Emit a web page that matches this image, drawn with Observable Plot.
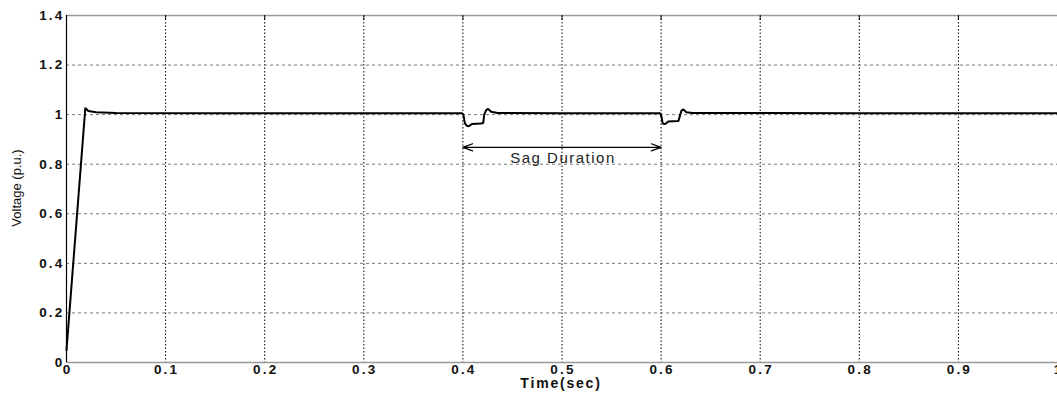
<!DOCTYPE html>
<html>
<head>
<meta charset="utf-8">
<script src="https://cdn.jsdelivr.net/npm/d3@7"></script>
<script src="https://cdn.jsdelivr.net/npm/@observablehq/plot@0.6"></script>
<style>
  html, body { margin: 0; padding: 0; background: #fff; overflow: hidden; }
  #chart svg { display: block; }
  .tick-label text { letter-spacing: 2.2px; }
</style>
</head>
<body>
<div id="chart"></div>
<script>
const time = [0, 0.019, 0.022, 0.03, 0.05, 0.15, 0.3, 0.399, 0.4005, 0.402, 0.404, 0.406, 0.409, 0.418, 0.4205, 0.4215, 0.4235, 0.4255, 0.4285, 0.435, 0.5, 0.599, 0.6005, 0.6015, 0.603, 0.605, 0.607, 0.6175, 0.619, 0.6205, 0.6225, 0.6255, 0.632, 0.8, 1.0];
const voltage = [0.05, 1.027, 1.015, 1.01, 1.007, 1.006, 1.006, 1.006, 1.0, 0.965, 0.955, 0.953, 0.962, 0.964, 0.966, 1.0, 1.018, 1.023, 1.012, 1.007, 1.006, 1.006, 0.99, 0.966, 0.962, 0.964, 0.972, 0.974, 0.995, 1.016, 1.021, 1.01, 1.007, 1.006, 1.006];
const xTicks = [0, 0.1, 0.2, 0.3, 0.4, 0.5, 0.6, 0.7, 0.8, 0.9, 1];
const yTicks = [0, 0.2, 0.4, 0.6, 0.8, 1, 1.2, 1.4];
const sagStart = 0.4, sagEnd = 0.6, sagLevel = 0.868;
const sagLabel = "Sag Duration";

const data = time.map((t, i) => ({t, v: voltage[i]}));
const sagMid = (sagStart + sagEnd) / 2;
const arrows = [
  {x1: sagMid, x2: sagStart, y: sagLevel},
  {x1: sagMid, x2: sagEnd, y: sagLevel}
];

const font = "'Liberation Sans', Arial, sans-serif";

const chart = Plot.plot({
  width: 1057,
  height: 394,
  marginLeft: 66,
  marginRight: 0,
  marginTop: 15,
  marginBottom: 32,
  style: {fontFamily: font, fontSize: "13px", background: "#fff", overflow: "visible"},
  x: {domain: [0, 1], ticks: xTicks},
  y: {domain: [0, 1.4], ticks: yTicks},
  marks: [
    Plot.gridX(xTicks.slice(1, -1), {stroke: "#000", strokeOpacity: 1, strokeDasharray: "1.5,2", strokeWidth: 1}),
    Plot.gridY(yTicks.slice(1, -1), {stroke: "#777", strokeOpacity: 1, strokeDasharray: "3,3", strokeWidth: 1}),
    Plot.ruleY([1.4], {stroke: "#999", strokeWidth: 1.3}),
    Plot.ruleY([0], {stroke: "#999", strokeWidth: 1.3}),
    Plot.ruleX([0], {stroke: "#000", strokeWidth: 1.2}),
    Plot.ruleX(xTicks.slice(1), {y1: 1.4, y2: 1.38, stroke: "#000", strokeWidth: 1}),
    Plot.axisX({ticks: xTicks, tickSize: 0, tickPadding: 2, dx: 1, label: null, fontWeight: "bold", fontSize: 13.5, fill: "#111", className: "tick-label", tickFormat: d => String(d)}),
    Plot.axisY({ticks: yTicks, tickSize: 0, tickPadding: 2, label: null, fontWeight: "bold", fontSize: 13.5, fill: "#111", className: "tick-label", tickFormat: d => String(d)}),
    Plot.line(data, {x: "t", y: "v", stroke: "#000", strokeWidth: 2, strokeLinejoin: "miter"}),
    Plot.arrow(arrows, {x1: "x1", x2: "x2", y1: "y", y2: "y", stroke: "#000", strokeWidth: 1.2, headLength: 13, headAngle: 40, bend: 0}),
    Plot.text([sagLabel], {x: sagMid, y: sagLevel, dy: 11, dx: 1, text: d => d, fontSize: 15, fill: "#222", className: "sag-label"})
  ]
});

const svg = d3.select(chart);
svg.selectAll(".sag-label text").style("letter-spacing", "1.5px");
svg.append("text")
  .attr("x", 561).attr("y", 388)
  .attr("text-anchor", "middle")
  .attr("font-family", font).attr("font-size", 14).attr("font-weight", "bold").attr("fill", "#111")
  .style("letter-spacing", "1.8px")
  .text("Time(sec)");
svg.append("text")
  .attr("transform", "translate(21,188) rotate(-90)")
  .attr("text-anchor", "middle")
  .attr("font-family", "'Liberation Sans Narrow', 'Liberation Sans', Arial, sans-serif")
  .attr("font-size", 13).attr("fill", "#111")
  .text("Voltage (p.u.)");

document.getElementById("chart").appendChild(chart);
</script>
</body>
</html>
